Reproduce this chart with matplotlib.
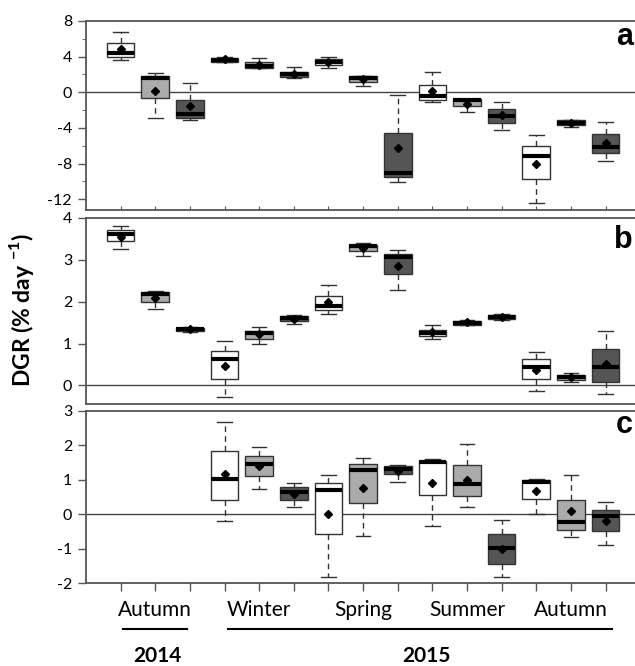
import numpy as np
import matplotlib
matplotlib.use('Agg')
from matplotlib import pyplot as plt
from matplotlib import transforms

# x positions: 5 seasons x 3 treatments
positions = np.arange(1, 16)
season_labels = ['', 'Autumn', '', '', 'Winter', '', '', 'Spring', '',
                 '', 'Summer', '', '', 'Autumn', '']
fills = ['white', '#ababab', '#555555'] * 5

# panel a
a_lo = [3.57, -2.88, -3.12, 3.35, 2.67, 1.60, 2.75, 0.66, -10.04, -1.05, -2.20, -4.28, -12.4, -3.93, -7.66]
a_q1 = [3.95, -0.67, -2.91, 3.45, 2.72, 1.71, 3.05, 1.13, -9.49, -0.84, -1.53, -3.49, -9.73, -3.66, -6.83]
a_med = [4.43, 1.63, -2.48, 3.65, 2.99, 2.02, 3.40, 1.63, -9.00, -0.44, -0.88, -2.65, -7.13, -3.39, -6.09]
a_q3 = [5.53, 1.83, -0.84, 3.88, 3.37, 2.33, 3.77, 1.83, -4.52, 0.82, -0.71, -1.86, -5.98, -3.16, -4.63]
a_hi = [6.74, 2.14, 1.05, 3.95, 3.80, 2.79, 4.00, 1.83, -0.26, 2.24, -0.71, -1.05, -4.80, -3.10, -3.30]
a_mean = [4.90, 0.16, -1.56, 3.70, 3.05, 2.05, 3.40, 1.51, -6.27, 0.17, -1.28, -2.58, -8.00, -3.40, -5.74]

# panel b
b_lo = [3.25, 1.82, 1.28, -0.28, 1.00, 1.46, 1.71, 3.09, 2.27, 1.10, 1.44, 1.56, -0.13, 0.09, -0.21]
b_q1 = [3.44, 1.99, 1.29, 0.15, 1.12, 1.54, 1.79, 3.21, 2.66, 1.18, 1.45, 1.58, 0.15, 0.14, 0.09]
b_med = [3.61, 2.19, 1.34, 0.63, 1.26, 1.60, 1.89, 3.33, 3.06, 1.25, 1.50, 1.63, 0.45, 0.19, 0.44]
b_q3 = [3.71, 2.23, 1.38, 0.83, 1.31, 1.65, 2.14, 3.36, 3.15, 1.33, 1.54, 1.69, 0.63, 0.25, 0.86]
b_hi = [3.80, 2.26, 1.40, 1.07, 1.39, 1.68, 2.39, 3.41, 3.24, 1.45, 1.56, 1.71, 0.79, 0.29, 1.29]
b_mean = [3.54, 2.09, 1.34, 0.46, 1.22, 1.58, 2.00, 3.29, 2.85, 1.27, 1.51, 1.64, 0.37, 0.19, 0.52]

# panel c (no data for autumn 2014)
c_pos = positions[3:]
c_lo = [-0.18, 0.73, 0.20, -1.83, -0.63, 0.95, -0.33, 0.20, -1.83, 0.00, -0.66, -0.88]
c_q1 = [0.41, 1.10, 0.43, -0.58, 0.33, 1.16, 0.57, 0.52, -1.43, 0.46, -0.46, -0.49]
c_med = [1.03, 1.46, 0.66, 0.72, 1.28, 1.33, 1.51, 0.87, -0.99, 0.94, -0.23, -0.05]
c_q3 = [1.84, 1.70, 0.80, 0.92, 1.46, 1.41, 1.55, 1.43, -0.58, 0.99, 0.43, 0.14]
c_hi = [2.69, 1.96, 0.92, 1.13, 1.64, 1.44, 1.61, 2.03, -0.16, 1.03, 1.14, 0.36]
c_mean = [1.18, 1.39, 0.59, 0.00, 0.77, 1.25, 0.92, 1.01, -1.00, 0.67, 0.10, -0.18]

plt.rcParams['font.family'] = ['Lato', 'DejaVu Sans']
plt.rcParams['axes.unicode_minus'] = False
plt.rcParams['mathtext.fontset'] = 'custom'
plt.rcParams['mathtext.rm'] = 'Lato'
plt.rcParams['mathtext.bf'] = 'Lato:bold'

SPINE = '#555555'


def draw_panel(ax, pos, lo, q1, med, q3, hi, mean, colors):
    """Draws one row of boxes from precomputed box statistics."""
    stats = []
    for i in range(len(pos)):
        stats.append({'whislo': lo[i], 'q1': q1[i], 'med': med[i], 'q3': q3[i],
                      'whishi': hi[i], 'mean': mean[i], 'fliers': []})
    ax.axhline(0, color='#444444', lw=1, zorder=1)
    bp = ax.bxp(stats, positions=pos, widths=0.8, capwidths=0.42,
                patch_artist=True, showmeans=True, showfliers=False,
                manage_ticks=False,
                boxprops=dict(edgecolor='#333333', linewidth=1),
                whiskerprops=dict(color='#333333', linewidth=1, linestyle=(0, (4, 3))),
                capprops=dict(color='#333333', linewidth=1),
                medianprops=dict(color='black', linewidth=3),
                meanprops=dict(marker='D', markerfacecolor='black',
                               markeredgecolor='black', markersize=4.5))
    for patch, col in zip(bp['boxes'], colors):
        patch.set_facecolor(col)

    ax.set_xlim(0, 15.85)
    ax.spines['right'].set_visible(False)
    for side in ('left', 'top', 'bottom'):
        ax.spines[side].set_color(SPINE)
        ax.spines[side].set_linewidth(1.3)
    ax.tick_params(axis='y', direction='out', length=6, width=1, color=SPINE,
                   labelsize=11.5, pad=4)


def panel_letter(ax, letter, ypos):
    ax.text(0.996, ypos, letter, transform=ax.transAxes, ha='right', va='baseline',
            fontsize=22, fontweight='bold', family='Liberation Sans')


fig = plt.figure(figsize=(6.35, 6.66), dpi=100)
ax_a = fig.add_axes([0.1354, 0.6847, 0.8646, 0.2838])
ax_b = fig.add_axes([0.1354, 0.3930, 0.8646, 0.2797])
ax_c = fig.add_axes([0.1354, 0.1242, 0.8646, 0.2587])

# Panel a
draw_panel(ax_a, positions, a_lo, a_q1, a_med, a_q3, a_hi, a_mean, fills)
ax_a.set_ylim(-13.2, 8)
ax_a.set_yticks([8, 4, 0, -4, -8, -12])
ax_a.set_yticks([6, 2, -2, -6, -10], minor=True)
ax_a.tick_params(axis='y', which='minor', direction='out', length=3, color=SPINE)
ax_a.set_xticks(positions)
ax_a.set_xticklabels([])
ax_a.tick_params(axis='x', direction='in', length=3, color=SPINE)
panel_letter(ax_a, 'a', 0.873)

# Panel b
draw_panel(ax_b, positions, b_lo, b_q1, b_med, b_q3, b_hi, b_mean, fills)
ax_b.set_ylim(-0.45, 4)
ax_b.set_yticks([0, 1, 2, 3, 4])
ax_b.set_xticks([])
panel_letter(ax_b, 'b', 0.839)

# Panel c
draw_panel(ax_c, c_pos, c_lo, c_q1, c_med, c_q3, c_hi, c_mean, fills[3:])
ax_c.set_ylim(-2, 3)
ax_c.set_yticks([-2, -1, 0, 1, 2, 3])
ax_c.set_xticks(positions)
ax_c.set_xticklabels(season_labels, fontsize=15)
ax_c.tick_params(axis='x', direction='out', length=6, width=1, color=SPINE, pad=6)
panel_letter(ax_c, 'c', 0.871)

# Year brackets under the season labels
trans = transforms.blended_transform_factory(ax_c.transData, ax_c.transAxes)
ax_c.plot([1.07, 2.92], [-0.2635, -0.2635], color='black', lw=1.5,
          transform=trans, clip_on=False)
ax_c.plot([4.1, 15.2], [-0.2635, -0.2635], color='black', lw=1.5,
          transform=trans, clip_on=False)
ax_c.text(2.05, -0.422, '2014', transform=trans, ha='center', va='center',
          fontsize=15, fontweight='bold')
ax_c.text(9.82, -0.422, '2015', transform=trans, ha='center', va='center',
          fontsize=15, fontweight='bold')

fig.text(22 / 635, 1 - 310 / 666, r'DGR (% day $^{\mathbf{-1}}$)', rotation=90,
         ha='center', va='center', fontsize=16.5, fontweight='bold')

plt.savefig('out.png', dpi=100)
